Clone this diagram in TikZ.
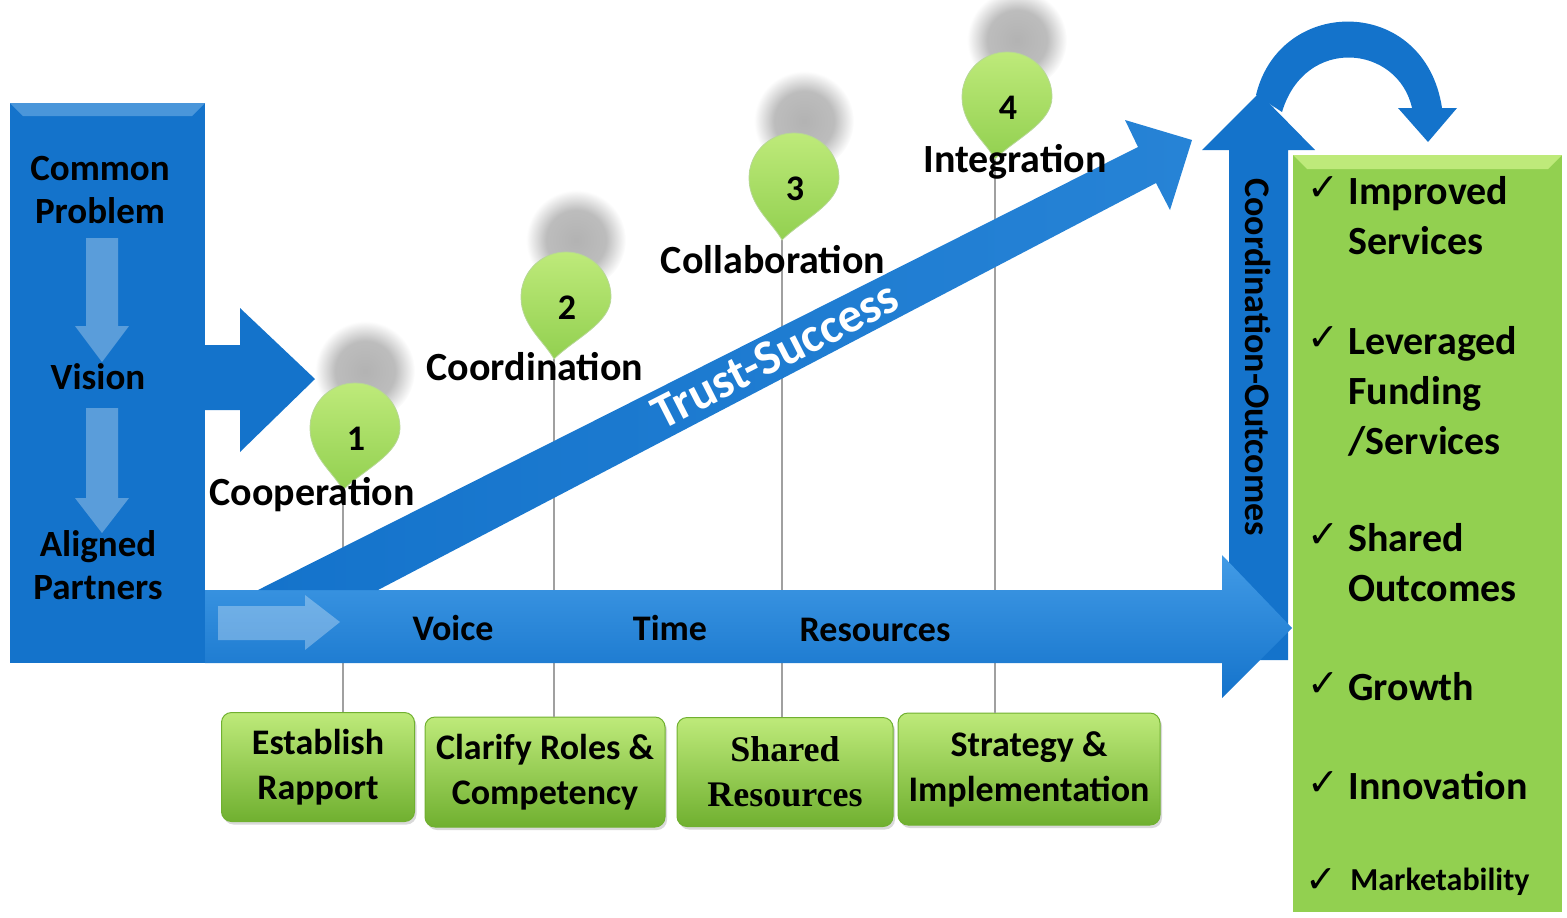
\documentclass[tikz,border=0pt]{standalone}
\usepackage{fontspec}
\setmainfont{Carlito}
\newfontfamily\symbfont{DejaVu Sans}
\newfontfamily\serifbfont{Liberation Serif}
\usetikzlibrary{positioning,shadows}

\definecolor{boxblue}{RGB}{20,115,203}
\definecolor{lightblue}{RGB}{66,155,230}
\definecolor{bevelblue}{RGB}{74,150,218}
\definecolor{leafgreen}{RGB}{146,208,80}
\definecolor{palegreen}{RGB}{190,234,122}
\definecolor{deepgreen}{RGB}{112,176,48}
\definecolor{guidegray}{RGB}{160,160,160}

\pgfdeclareradialshading{pinshadow}{\pgfpoint{0bp}{0bp}}{color(0bp)=(black!30); color(15bp)=(black!26); color(25bp)=(white); color(50bp)=(white)}

\tikzset{
    blockarrow/.style={fill=boxblue},
    ghostarrow/.style={fill=white, fill opacity=0.3},
    stagebox/.style={draw=deepgreen, line width=0.5pt, rounded corners=5pt, top color=palegreen, bottom color=deepgreen, inner sep=0pt, align=center, font=\fontsize{18}{22.5}\selectfont\bfseries, drop shadow={opacity=0.3, shadow xshift=1pt, shadow yshift=-1.5pt}},
    guide/.style={draw=guidegray, line width=0.6pt},
    sidetext/.style={align=center, font=\fontsize{18.5}{21.5}\selectfont\bfseries},
    pinlabel/.style={font=\fontsize{20}{24}\selectfont\bfseries},
    pinnum/.style={font=\fontsize{18}{20}\selectfont\bfseries},
    flowtext/.style={font=\fontsize{18}{20}\selectfont\bfseries},
    gaintext/.style={align=left, anchor=north west, inner sep=0pt, font=\fontsize{20}{25}\selectfont\bfseries},
    tick/.style={inner sep=0pt, anchor=north east, font=\symbfont\fontsize{19}{19}\selectfont},
}

\begin{document}
\begin{tikzpicture}[x=0.5pt, y=-0.5pt]
    \useasboundingbox (0,0) rectangle (1567,917);

    % stages along the bottom
    \node[stagebox, minimum width=96.5pt, minimum height=54.5pt] (rapport) at (318,767) {Establish\\Rapport};
    \node[stagebox, minimum width=120pt, minimum height=55pt] (roles) at (545,772) {Clarify Roles \&\\Competency};
    \node[stagebox, minimum width=108pt, minimum height=54.5pt, font=\serifbfont\bfseries\fontsize{18}{22.5}\selectfont] (shared) at (785,772) {Shared\\Resources};
    \node[stagebox, minimum width=131pt, minimum height=56pt] (strategy) at (1029,769) {Strategy \&\\Implementation};

    % pin shadows
    \foreach \cx/\cy/\n in {355/428/1, 566/297/2, 794/178/3, 1007/97/4} {
        \shade[shading=pinshadow] (\cx+10,\cy-57) circle (25pt);
        \coordinate (tip\n) at (\cx-12,\cy+62);
    }

    \draw[guide] (tip1) -- (tip1 |- rapport.north);
    \draw[guide] (tip2) -- (tip2 |- roles.north);
    \draw[guide] (tip3) -- (tip3 |- shared.north);
    \draw[guide] (tip4) -- (tip4 |- strategy.north);

    % left column
    \fill[boxblue] (10,103) rectangle (205,663);
    \fill[bevelblue] (10,103) -- (205,103) -- (192,116) -- (23,116) -- cycle;
    \fill[ghostarrow] (86,238) -- (118,238) -- (118,326) -- (129,326) -- (102,362) -- (75,326) -- (86,326) -- cycle;
    \fill[ghostarrow] (86,408) -- (118,408) -- (118,498) -- (129,498) -- (102,533) -- (75,498) -- (86,498) -- cycle;
    \node[sidetext] (problem) at (100,190) {Common\\Problem};
    \node[sidetext] (vision) at (98,377) {Vision};
    \node[sidetext] (partners) at (98,565) {Aligned\\Partners};

    \fill[blockarrow] (183,345) -- (240,345) -- (240,308) -- (315,379) -- (240,452) -- (240,410) -- (183,410) -- cycle;

    % vertical and curved arrows
    \fill[blockarrow] (1229,660) -- (1229,150) -- (1202,150) -- (1259,93) -- (1315,150) -- (1288,150) -- (1288,660) -- cycle;
    \node[flowtext, rotate=-90] (outcomes) at (1258,357) {Coordination-Outcomes};
    \fill[blockarrow] (1256,95) .. controls (1280,-5) and (1425,-5) .. (1442,108) -- (1457,108) -- (1428,142) -- (1398,108) -- (1412,108) .. controls (1398,45) and (1305,35) .. (1282,112) -- cycle;

    % horizontal arrow
    \shade[top color=lightblue, middle color=boxblue, bottom color=boxblue] (205,590) -- (1222,590) -- (1222,555) -- (1292,628) -- (1222,698) -- (1222,663) -- (205,663) -- cycle;
    \fill[ghostarrow] (218,606) -- (305,606) -- (305,595) -- (340,622) -- (305,650) -- (305,640) -- (218,640) -- cycle;
    \node[flowtext] (voice) at (453,628) {Voice};
    \node[flowtext] (time) at (670,628) {Time};
    \node[flowtext] (resources) at (875,630) {Resources};

    % diagonal arrow
    \shade[left color=boxblue, right color=boxblue!60!lightblue] (258,590) -- (1138,147) -- (1125,120) -- (1192,140) -- (1170,210) -- (1156,183) -- (378,590) -- cycle;
    \node[flowtext, white, rotate=27, font=\fontsize{24.5}{26}\selectfont\bfseries] (trust) at (775,355) {Trust-Success};

    % pins
    \foreach \cx/\cy/\n in {355/428/1, 566/297/2, 794/178/3, 1007/97/4} {
        \shade[top color=palegreen, bottom color=leafgreen, draw=deepgreen!50, line width=0.4pt, shift={(\cx,\cy)}]
            (-12,62) .. controls (-22,44) and (-45,28) .. (-45,0)
            arc[start angle=180, end angle=360, radius=45]
            .. controls (45,26) and (8,42) .. (-12,62) -- cycle;
        \node[pinnum] (num\n) at (\cx+1,\cy+11) {\n};
    }
    \node[pinlabel] (coop) at (312,495) {Cooperation};
    \node[pinlabel] (coord) at (535,367) {Coordination};
    \node[pinlabel] (collab) at (773,260) {Collaboration};
    \node[pinlabel] (integ) at (1015,162) {Integration};

    % outcomes column
    \fill[leafgreen] (1293,155) rectangle (1562,912);
    \fill[palegreen] (1293,155) -- (1562,155) -- (1548,169) -- (1307,169) -- cycle;
    \foreach \yt/\txt [count=\k] in {176/{Improved\\Services}, 326/{Leveraged\\Funding\\/Services}, 523/{Shared\\Outcomes}, 672/{Growth}, 771/{Innovation}} {
        \node[gaintext] (gain\k) at (1348,\yt) {\txt};
        \node[tick, left=4pt of gain\k.north west, anchor=north east] (tick\k) {✓};
    }
    \node[gaintext, font=\fontsize{16}{20}\selectfont\bfseries] (gain6) at (1350,868) {Marketability};
    \node[tick, left=6pt of gain6.north west, anchor=north east] (tick6) {✓};
\end{tikzpicture}
\end{document}
